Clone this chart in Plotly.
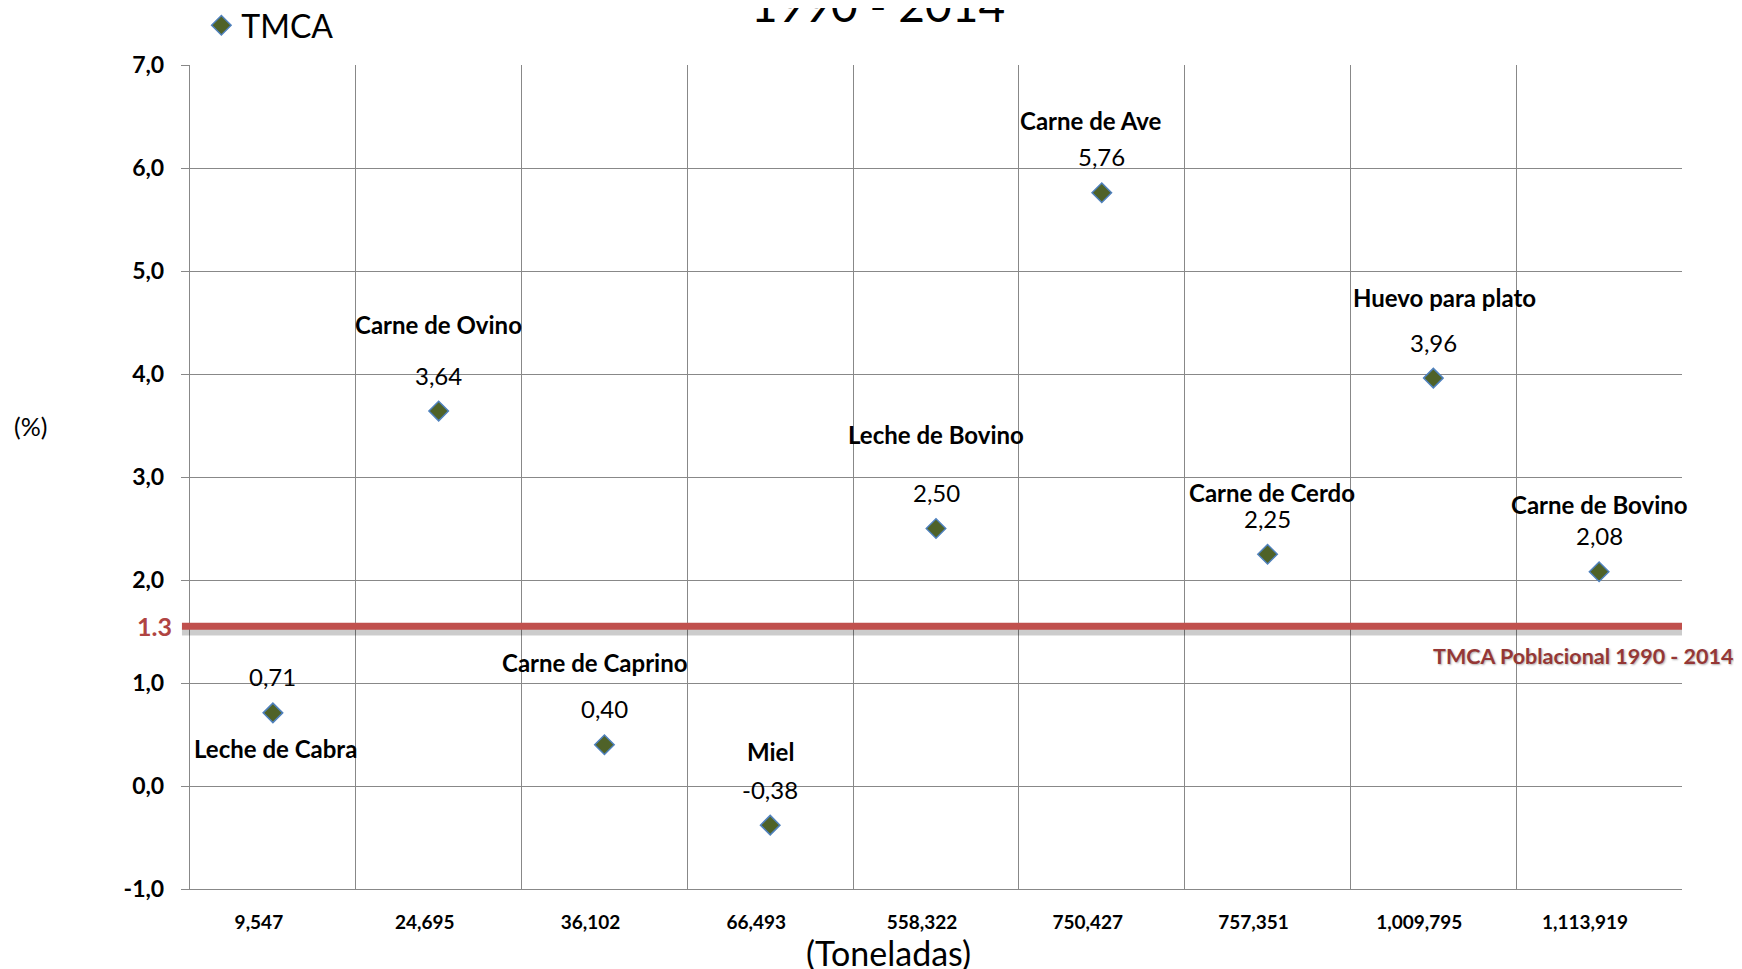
import plotly.graph_objects as go

# toneladas (categorías del eje x)
toneladas = ["9,547", "24,695", "36,102", "66,493", "558,322",
             "750,427", "757,351", "1,009,795", "1,113,919"]
productos = ["Leche de Cabra", "Carne de Ovino", "Carne de Caprino", "Miel",
             "Leche de Bovino", "Carne de Ave", "Carne de Cerdo",
             "Huevo para plato", "Carne de Bovino"]
tmca = [0.71, 3.64, 0.40, -0.38, 2.50, 5.76, 2.25, 3.96, 2.08]
y_ticks = [-1, 0, 1, 2, 3, 4, 5, 6, 7]

tmca_poblacional = 1.3
linea_pob_y = 1.55  # where the red line sits in the picture

# label placement (pixels relative to each point)
name_dy = [-36, 87, 82, 74, 94, 72, 62, 81, 67]
name_dx = [3, 0, -9, 0, 0, -11, 4, 11, 0]

FONT = "Lato, 'Open Sans', sans-serif"
GRID = "#888888"

fig = go.Figure()
fig.add_trace(go.Scatter(
    x=toneladas, y=tmca, mode="markers", name="TMCA",
    marker=dict(symbol="diamond", size=15, color="#4F6228",
                line=dict(color="#4F81BD", width=1.5)),
    cliponaxis=False,
))

# shadow + red population line
fig.add_shape(type="line", xref="paper", yref="y", x0=-0.0054, x1=1,
              y0=linea_pob_y - 0.05, y1=linea_pob_y - 0.05,
              line=dict(color="rgba(0,0,0,0.2)", width=8), layer="above")
fig.add_shape(type="line", xref="paper", yref="y", x0=-0.0054, x1=1,
              y0=linea_pob_y, y1=linea_pob_y,
              line=dict(color="#C0504D", width=7), layer="above")

annotations = []
for cat, prod, v, dy, dx in zip(toneladas, productos, tmca, name_dy, name_dx):
    annotations.append(dict(
        x=cat, y=v, text=f"{v:.2f}".replace(".", ","), showarrow=False,
        yshift=36, font=dict(family=FONT, size=24, color="#000000")))
    annotations.append(dict(
        x=cat, y=v, text=f"<b>{prod}</b>", showarrow=False,
        yshift=dy, xshift=dx, font=dict(family=FONT, size=24, color="#000000")))

annotations += [
    dict(xref="paper", yref="y", x=-0.011, y=linea_pob_y, xanchor="right",
         text=f"<b>{tmca_poblacional}</b>", showarrow=False,
         font=dict(family=FONT, size=25, color="#B04442")),
    dict(xref="paper", yref="y", x=1.036, y=linea_pob_y, xanchor="right",
         yshift=-30, text="<b>TMCA Poblacional 1990 - 2014</b>", showarrow=False,
         font=dict(family=FONT, size=21.5, color="#953735",
                   shadow="1px 1px 2px rgba(0,0,0,0.3)")),
    dict(xref="paper", yref="paper", x=-0.119, y=0.562, xanchor="left",
         text="(%)", showarrow=False,
         font=dict(family=FONT, size=25, color="#000000")),
    dict(xref="paper", yref="paper", x=0.468, y=-0.077, xanchor="center",
         yanchor="middle", text="(Toneladas)", showarrow=False,
         font=dict(family=FONT, size=34, color="#000000")),
    dict(xref="paper", yref="paper", x=0.461, y=1.073, xanchor="center",
         yanchor="middle", text="1990 - 2014", showarrow=False,
         font=dict(family=FONT, size=46, color="#000000")),
]

fig.update_layout(
    width=1742, height=969,
    margin=dict(l=182, r=68, t=57, b=88, autoexpand=False),
    paper_bgcolor="white", plot_bgcolor="white",
    showlegend=True,
    legend=dict(xref="container", yref="container", x=0.111, y=0.982,
                xanchor="left", yanchor="middle",
                font=dict(family=FONT, size=32, color="#000000"),
                bgcolor="rgba(0,0,0,0)", itemwidth=30),
    annotations=annotations,
    font=dict(family=FONT),
)

fig.update_xaxes(
    type="category", range=[-0.5, len(toneladas) - 0.5], tickson="boundaries",
    showgrid=True, automargin=False,
    gridcolor=GRID, gridwidth=1.4, showline=True, linecolor=GRID, linewidth=1.4,
    ticks="", ticklabelstandoff=16, ticklabelshift=-14,
    tickfont=dict(family=FONT, size=19, color="#000000", weight="bold"),
)
fig.update_yaxes(
    range=[-1, 7], tickvals=y_ticks, automargin=False,
    ticktext=[f"{t:.1f}".replace(".", ",") for t in y_ticks],
    showgrid=True,
    gridcolor=GRID, gridwidth=1.4, showline=True, linecolor=GRID, linewidth=1.4,
    zeroline=False, ticks="outside", ticklen=8, tickcolor=GRID, tickwidth=1.4,
    ticklabelstandoff=12,
    tickfont=dict(family=FONT, size=23, color="#000000", weight="bold"),
)

fig.write_html("out.html")
